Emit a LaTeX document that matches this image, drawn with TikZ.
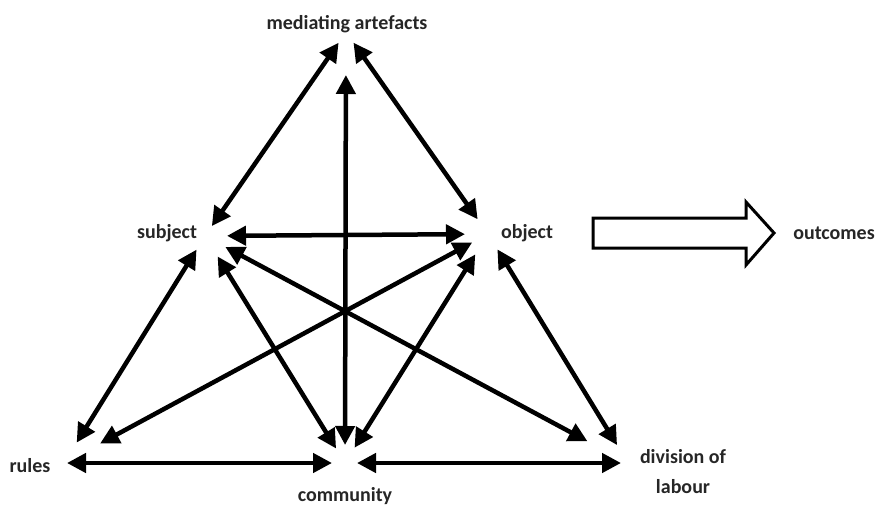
\documentclass[tikz,border=0pt]{standalone}
\usepackage{fontspec}
\setmainfont{Carlito}
\usetikzlibrary{arrows.meta}

\tikzset{
  lbl/.style={font=\bfseries\fontsize{20}{30}\selectfont, text=black!85, align=center},
  link/.style={line width=4.5pt, {Triangle[length=19pt,width=19pt]}-{Triangle[length=19pt,width=19pt]}}
}

\begin{document}
\begin{tikzpicture}[x=1pt, y=-1pt]
    \useasboundingbox (0,0) rectangle (884,506);
    % corners of the triangle
    \coordinate(artefacts) at (346,32);
    \coordinate(subject) at (205,236);
    \coordinate(object) at (488,234);
    \coordinate(rules) at (64,463);
    \coordinate(community) at (345,463);
    \coordinate(division) at (628,463);
    % labels
    \node(artefacts_t)[lbl] at (347,24) {mediating artefacts};
    \node(subject_t)[lbl] at (167,233) {subject};
    \node(object_t)[lbl] at (527,233) {object};
    \node(rules_t)[lbl] at (30,466) {rules};
    \node(community_t)[lbl] at (345,496) {community};
    \node(division_t)[lbl] at (683,472) {division of\\labour};
    \node(outcomes_t)[lbl] at (834,233) {outcomes};
    % links
    \draw[link, shorten <=13pt, shorten >=12pt] (artefacts) -- (subject);
    \draw[link, shorten <=13pt, shorten >=18pt] (artefacts) -- (object);
    \draw[link, shorten <=43pt, shorten >=18pt] (artefacts) -- (community);
    \draw[link, shorten <=22pt, shorten >=23pt] (subject) -- (object);
    \draw[link, shorten <=16pt, shorten >=24pt] (subject) -- (rules);
    \draw[link, shorten <=24pt, shorten >=17pt] (subject) -- (community);
    \draw[link, shorten <=23pt, shorten >=46pt] (subject) -- (division);
    \draw[link, shorten <=18pt, shorten >=41pt] (object) -- (rules);
    \draw[link, shorten <=24pt, shorten >=18pt] (object) -- (community);
    \draw[link, shorten <=18pt, shorten >=21pt] (object) -- (division);
    \draw[link, shorten <=3pt, shorten >=13pt] (rules) -- (community);
    \draw[link, shorten <=12pt, shorten >=7pt] (community) -- (division);
    % flow to outcomes
    \draw[line width=3pt, line join=miter] (593,218) -- (746,218) -- (746,202) -- (774,233)
        -- (746,265) -- (746,248) -- (593,248) -- cycle;
\end{tikzpicture}
\end{document}
